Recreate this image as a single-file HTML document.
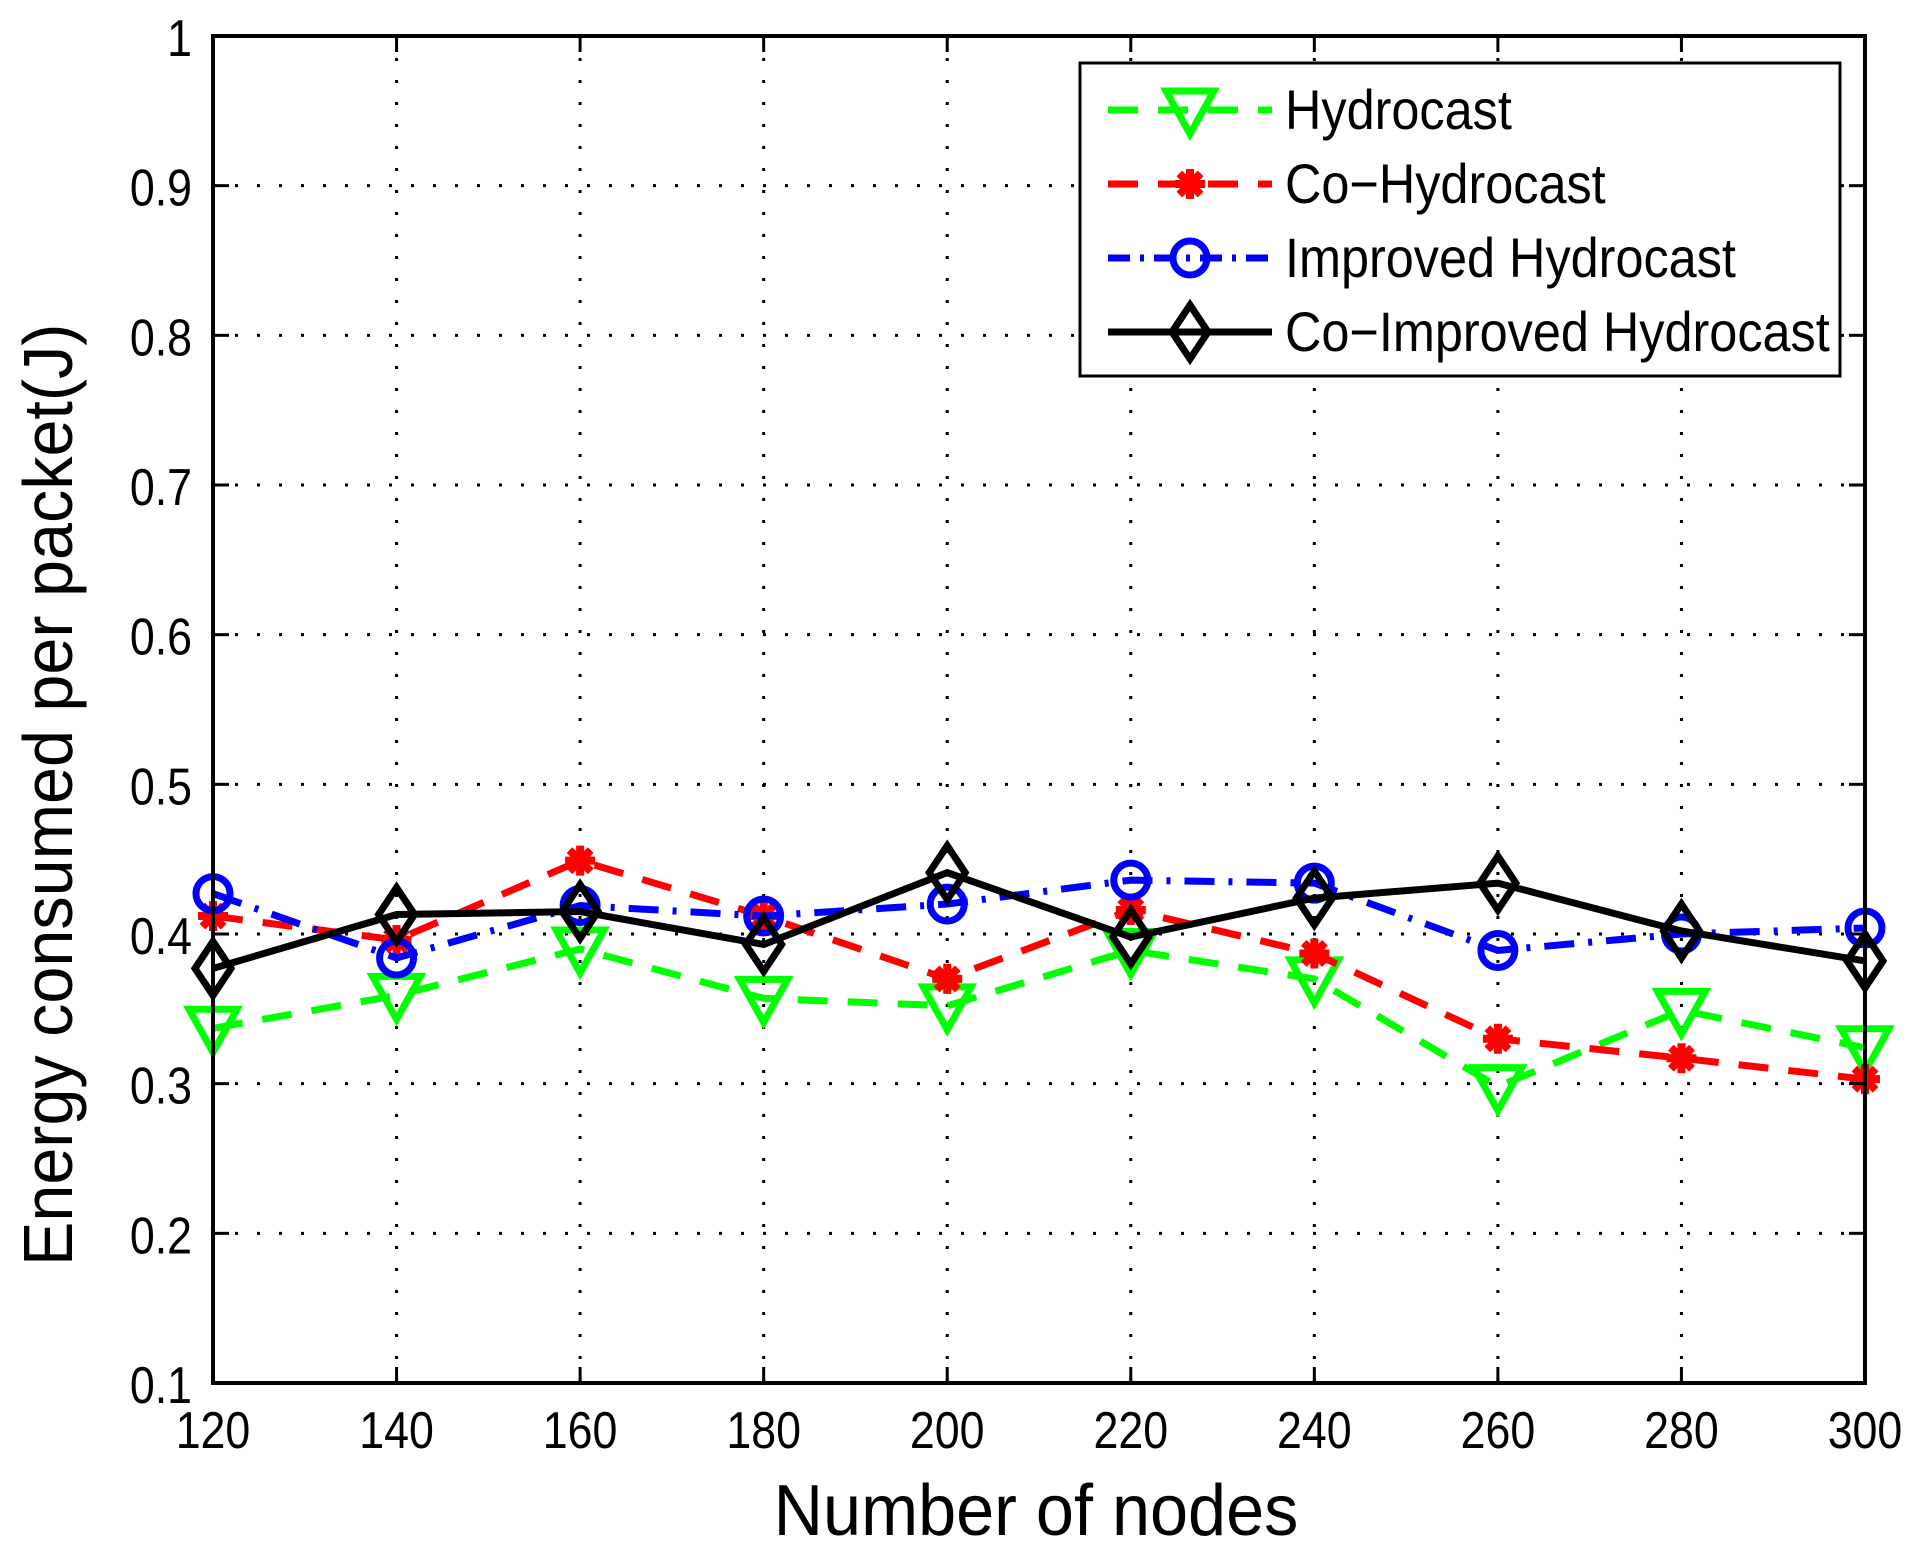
<!DOCTYPE html>
<html><head><meta charset="utf-8"><style>
body{margin:0;background:#fff}
svg text{font-family:"Liberation Sans",Arial,sans-serif;fill:#000}
</style></head><body>
<svg id="chart" width="1926" height="1558" viewBox="0 0 1926 1558" xmlns="http://www.w3.org/2000/svg">
<g id="grid"></g>
<g id="series"></g>
<rect x="213" y="36" width="1652" height="1347" fill="none" stroke="#000" stroke-width="4"/>
<g id="ticks"></g>
<text transform="translate(1036,1535) scale(0.95,1)" font-size="72" text-anchor="middle">Number of nodes</text>
<text transform="translate(72,1266) rotate(-90) scale(0.95,1)" font-size="70" text-anchor="start">Energy consumed per packet(J)</text>
<g id="legend"></g>
</svg>
<script>
const categories=[120,140,160,180,200,220,240,260,280,300];
const yTicks=[0.1,0.2,0.3,0.4,0.5,0.6,0.7,0.8,0.9,1];
const yTickLabels=["0.1","0.2","0.3","0.4","0.5","0.6","0.7","0.8","0.9","1"];
const hydrocast=[0.337,0.359,0.390,0.357,0.352,0.389,0.370,0.298,0.349,0.324];
const coHydrocast=[0.412,0.396,0.449,0.412,0.370,0.416,0.387,0.330,0.317,0.303];
const improved=[0.427,0.384,0.419,0.412,0.420,0.436,0.434,0.389,0.400,0.404];
const coImproved=[0.377,0.413,0.415,0.393,0.441,0.398,0.424,0.434,0.402,0.382];
const seriesNames=["Hydrocast","Co\u2212Hydrocast","Improved Hydrocast","Co\u2212Improved Hydrocast"];

const NS="http://www.w3.org/2000/svg";
const L=213,R=1865,T=36,B=1383;
function xs(v){return L+(v-120)/(300-120)*(R-L);}
function ys(v){return B-(v-0.1)/(1-0.1)*(B-T);}
function mk(tag,attrs,parent){const e=document.createElementNS(NS,tag);for(const k in attrs)e.setAttribute(k,attrs[k]);parent.appendChild(e);return e;}
const grid=document.getElementById('grid'),ticks=document.getElementById('ticks'),ser=document.getElementById('series'),leg=document.getElementById('legend');
categories.forEach(c=>{const x=xs(c);
 const g=mk('line',{x1:x,x2:x,y1:T,y2:B,stroke:'#000','stroke-width':3,'stroke-dasharray':'3 19'},grid);
 
 
 const t1=mk('line',{x1:x,x2:x,y1:B,y2:B-16,stroke:'#000','stroke-width':3},ticks);
 
 
 const t2=mk('line',{x1:x,x2:x,y1:T,y2:T+16,stroke:'#000','stroke-width':3},ticks);
 
 
 const lb=mk('text',{transform:`translate(${x},1448) scale(0.86,1)`,'font-size':52,'text-anchor':'middle'},ticks);lb.textContent=c;
 
 
});
yTicks.forEach((v,i)=>{const y=ys(v);
 const g=mk('line',{x1:L,x2:R,y1:y,y2:y,stroke:'#000','stroke-width':3,'stroke-dasharray':'3 19'},grid);
 
 
 const t1=mk('line',{x1:L,x2:L+16,y1:y,y2:y,stroke:'#000','stroke-width':3},ticks);
 
 
 const t2=mk('line',{x1:R,x2:R-16,y1:y,y2:y,stroke:'#000','stroke-width':3},ticks);
 
 
 const lb=mk('text',{transform:`translate(192,${y+20}) scale(0.86,1)`,'font-size':52,'text-anchor':'end'},ticks);lb.textContent=yTickLabels[i];
 
 
});
const styles=[
 {color:'#00ff00',dash:'30 20',marker:'tri'},
 {color:'#ff0000',dash:'30 20',marker:'star'},
 {color:'#0000ff',dash:'30 14 4 14',marker:'circle'},
 {color:'#000000',dash:'none',marker:'diamond'}];
function marker(type,x,y,color,parent){
 let e;
 if(type==='tri')e=mk('path',{d:`M${x-24} ${y-19}L${x+24} ${y-19}L${x} ${y+24}Z`,fill:'none',stroke:color,'stroke-width':7},parent);
 else if(type==='circle')e=mk('circle',{cx:x,cy:y,r:17,fill:'none',stroke:color,'stroke-width':7},parent);
 else if(type==='diamond')e=mk('path',{d:`M${x} ${y-27}L${x+18} ${y}L${x} ${y+27}L${x-18} ${y}Z`,fill:'none',stroke:color,'stroke-width':7},parent);
 else{e=mk('g',{},parent);for(let a=0;a<4;a++){const an=a*Math.PI/4;mk('line',{x1:x-15*Math.cos(an),y1:y-15*Math.sin(an),x2:x+15*Math.cos(an),y2:y+15*Math.sin(an),stroke:color,'stroke-width':8},e);}}
 return e;
}
const allData=[hydrocast,coHydrocast,improved,coImproved];
allData.forEach((d,si)=>{const s=styles[si];
 const g=mk('g',{},ser);
 
 
 const pts=d.map((v,i)=>xs(categories[i])+','+ys(v)).join(' ');
 const pl=mk('polyline',{points:pts,fill:'none',stroke:s.color,'stroke-width':7,'stroke-dasharray':s.dash},g);
 
 
 d.forEach((v,i)=>{const m=marker(s.marker,xs(categories[i]),ys(v),s.color,g);
  
  });
});
const box=mk('rect',{x:1080,y:63,width:760,height:313,fill:'#fff',stroke:'#000','stroke-width':3},leg);


seriesNames.forEach((n,i)=>{const y=110+i*74,s=styles[i];
 const g=mk('g',{},leg);
 
 
 mk('line',{x1:1108,x2:1272,y1:y,y2:y,stroke:s.color,'stroke-width':7,'stroke-dasharray':s.dash==='none'?'none':(i==2?'22 10 4 10':'30 20')},g);
 marker(s.marker,1190,y,s.color,g);
 const t=mk('text',{transform:`translate(1285,${y+19}) scale(0.9,1)`,'font-size':56},g);t.textContent=n;
});
</script>
</body></html>
